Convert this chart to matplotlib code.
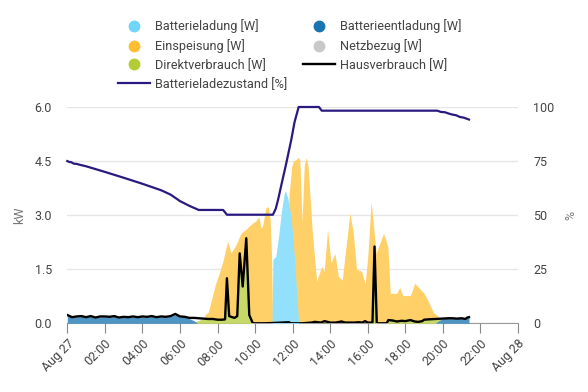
import numpy as np
import matplotlib
matplotlib.use('Agg')
import matplotlib.pyplot as plt
from matplotlib.lines import Line2D

plt.rcParams['font.family'] = ['Roboto', 'DejaVu Sans']

# ---- data (hours since Aug 27 00:00, kW / %) ----
x_ticks = list(range(0, 25, 2))
x_labels = ['Aug 27', '02:00', '04:00', '06:00', '08:00', '10:00', '12:00',
            '14:00', '16:00', '18:00', '20:00', '22:00', 'Aug 28']

# Hausverbrauch [kW]
house_t = [0, 0.25, 0.5, 0.75, 1.0, 1.25, 1.5, 1.75, 2.0, 2.25, 2.5, 2.75, 3.0, 3.25,
           3.5, 3.75, 4.0, 4.25, 4.5, 4.75, 5.0, 5.25, 5.5, 5.75, 6.0, 6.25, 6.5, 6.75,
           7.0, 7.25, 7.5, 7.75, 8.0, 8.25, 8.4, 8.5, 8.62, 8.72, 8.9, 9.05, 9.18, 9.34,
           9.53, 9.69, 9.88, 10.5, 11.0, 11.8, 11.9, 12.5, 13.0, 13.18, 13.5, 13.7, 14.0,
           14.3, 14.6, 14.8, 15.3, 15.5, 15.7, 15.86, 16.0, 16.25, 16.36, 16.48, 17.0,
           17.1, 17.3, 17.55, 17.8, 18.0, 18.27, 18.5, 18.7, 18.9, 19.0, 19.25, 19.6,
           19.96, 20.3, 20.5, 20.75, 21.0, 21.2, 21.3, 21.39]
house_v = [0.23, 0.17, 0.19, 0.2, 0.17, 0.2, 0.16, 0.19, 0.19, 0.18, 0.2, 0.16, 0.18, 0.17,
           0.19, 0.17, 0.19, 0.18, 0.2, 0.17, 0.19, 0.18, 0.2, 0.26, 0.19, 0.18, 0.15, 0.15,
           0.14, 0.13, 0.12, 0.12, 0.1, 0.1, 0.11, 1.25, 0.2, 0.18, 0.15, 0.2, 1.94, 1.02,
           2.36, 0.23, 0.0, 0.0, 0.01, 0.03, 0.0, 0.0, 0.02, 0.04, 0.02, 0.06, 0.02,
           0.02, 0.05, 0.02, 0.02, 0.03, 0.02, 0.06, 0.02, 0.02, 2.13, 0.0, 0.0,
           0.09, 0.08, 0.05, 0.07, 0.06, 0.09, 0.05, 0.04, 0.06, 0.1, 0.11, 0.12,
           0.13, 0.14, 0.14, 0.13, 0.14, 0.12, 0.16, 0.17]

# Batterieentladung [kW]
dis_t = [0, 0.25, 0.5, 0.75, 1.0, 1.25, 1.5, 1.75, 2.0, 2.25, 2.5, 2.75, 3.0, 3.25,
         3.5, 3.75, 4.0, 4.25, 4.5, 4.75, 5.0, 5.25, 5.5, 5.75, 6.0, 6.25, 6.5, 6.75, 6.95,
         19.6, 19.8, 20.0, 20.3, 20.5, 20.75, 21.0, 21.2, 21.3, 21.39]
dis_v = [0.21, 0.16, 0.18, 0.19, 0.16, 0.19, 0.15, 0.18, 0.18, 0.17, 0.19, 0.15, 0.17, 0.16,
         0.18, 0.16, 0.18, 0.17, 0.19, 0.16, 0.18, 0.17, 0.19, 0.24, 0.18, 0.17, 0.13, 0.07, 0.0,
         0.0, 0.08, 0.13, 0.14, 0.14, 0.13, 0.14, 0.12, 0.16, 0.17]

# Direktverbrauch [kW]
direct_t = [6.6, 6.9, 7.2, 7.5, 7.75, 8.0, 8.25, 8.4, 8.5, 8.62, 8.72, 8.9, 9.05, 9.18,
            9.34, 9.53, 9.69, 9.88, 16.2, 16.25, 16.36, 16.48, 17.0, 17.1, 17.3, 17.55,
            17.8, 18.0, 18.27, 18.5, 18.7, 18.9, 19.0, 19.25, 19.6, 19.8, 20.0]
direct_v = [0.0, 0.06, 0.12, 0.12, 0.12, 0.1, 0.1, 0.11, 1.25, 0.2, 0.18, 0.15, 0.2, 1.94,
            1.02, 2.36, 0.23, 0.0, 0.0, 0.02, 2.13, 0.0, 0.0, 0.09, 0.08, 0.05,
            0.07, 0.06, 0.09, 0.05, 0.04, 0.06, 0.1, 0.11, 0.12, 0.1, 0.0]

# Batterieladung [kW]
charge_t = [10.9, 10.95, 11.1, 11.25, 11.4, 11.55, 11.62, 11.75, 11.93, 12.1, 12.32]
charge_v = [0.0, 1.78, 1.85, 2.4, 3.1, 3.6, 3.68, 3.45, 2.9, 1.8, 0.0]

# Einspeisung [kW]
feed_t = [7.2, 7.35, 7.5, 7.7, 7.9, 8.1, 8.3, 8.45, 8.54, 8.72, 8.9, 9.0, 9.25, 9.5, 9.8,
          10.05, 10.2, 10.32, 10.4, 10.57, 10.7, 10.8, 10.88, 10.93,
          11.7, 11.8, 11.95, 12.05, 12.2, 12.3, 12.38, 12.5, 12.62, 12.73, 12.82, 13.05,
          13.28, 13.55, 13.68, 13.86, 14.04, 14.25, 14.43, 14.64, 15.05, 15.23, 15.4,
          15.67, 15.86, 16.0, 16.18, 16.45, 16.84, 17.07, 17.2, 17.55, 17.7, 17.86,
          18.27, 18.5, 18.7, 19.0, 19.14, 19.5, 19.8, 19.95]
feed_v = [0.0, 0.25, 0.3, 0.7, 1.1, 1.4, 1.75, 2.1, 2.27, 1.95, 2.1, 2.2, 2.5, 2.6, 2.75,
          2.85, 2.95, 2.64, 2.7, 3.2, 3.24, 2.9, 1.8, 0.0,
          0.0, 3.5, 4.35, 4.5, 4.55, 4.6, 4.54, 2.82, 4.4, 4.6, 4.36, 2.5,
          1.17, 1.58, 1.44, 2.6, 1.67, 1.94, 1.3, 1.2, 3.06, 2.5, 1.5,
          1.44, 1.1, 1.85, 3.37, 1.94, 2.5, 2.13, 0.83, 0.83, 1.0, 0.77,
          0.77, 1.11, 1.0, 0.83, 0.7, 0.3, 0.17, 0.0]

# Netzbezug [kW]
grid_t = [0, 21.39]
grid_v = [0.0, 0.0]

# Batterieladezustand [%]
soc_t = [0, 0.1, 0.2, 0.35, 0.5, 0.7, 1.0, 2.0, 3.0, 4.0, 5.0, 5.5, 6.0, 6.5, 7.0, 8.3,
         8.5, 10.95, 11.1, 11.22, 11.4, 11.66, 11.93, 12.1, 12.32, 13.4, 13.55, 19.7,
         19.9, 20.1, 20.3, 20.5, 20.7, 20.9, 21.1, 21.39]
soc_v = [75, 74.6, 74.5, 73.8, 73.7, 73.2, 72.6, 70.0, 67.3, 64.5, 61.5, 59.5, 56.5, 54.3,
         52.4, 52.4, 50.2, 50.2, 53, 57, 64, 74, 85, 93, 100, 100, 98.3, 98.3,
         97.7, 97.6, 97.0, 96.5, 96.2, 95.4, 95.1, 94.2]

# ---- colours ----
c_charge = '#6fd5fb'
c_dis = '#1a74b0'
c_feed = '#ffbf30'
c_grid = '#c8c8c8'
c_direct = '#b3cc35'
f_charge = '#93e0fc'
f_dis = '#4f95c4'
f_feed = '#ffd067'
f_direct = '#c6d968'
c_soc = '#2a1a80'
txt = '#444444'

fig = plt.figure(figsize=(5.88, 3.92), dpi=100)
ax = fig.add_axes([67.3/588, 68.7/392, 450.7/588, 216.3/392])

ax.fill_between(feed_t, 0, feed_v, color=f_feed, lw=0, zorder=2)
ax.fill_between(charge_t, 0, charge_v, color=f_charge, lw=0, zorder=3)
ax.fill_between(direct_t, 0, direct_v, color=f_direct, lw=0, zorder=4)
ax.fill_between(dis_t, 0, dis_v, color=f_dis, lw=0, zorder=5)
ax.fill_between(grid_t, 0, grid_v, color=c_grid, lw=0, zorder=5)
ax.plot(house_t, house_v, color='black', lw=1.7, zorder=6)

ax.set_xlim(0, 24)
ax.set_ylim(0, 6)
ax.set_yticks([0, 1.5, 3.0, 4.5, 6.0])
ax.set_yticklabels(['0.0', '1.5', '3.0', '4.5', '6.0'])
ax.set_xticks(x_ticks)
ax.set_xticklabels(x_labels, rotation=45, ha='right', rotation_mode='anchor')
ax.grid(axis='y', color='#e6e6e6', lw=1)
ax.set_axisbelow(True)
for s in ['top', 'left', 'right']:
    ax.spines[s].set_visible(False)
ax.spines['bottom'].set_color('#999999')
ax.tick_params(axis='y', length=0, pad=11, labelsize=9, labelcolor=txt)
ax.tick_params(axis='x', length=7, color='#888888', labelsize=9, labelcolor=txt, pad=3)
ax.set_ylabel('kW', color='#777777', fontsize=9, labelpad=6)

ax2 = ax.twinx()
ax2.plot(soc_t, soc_v, color=c_soc, lw=1.6, clip_on=False, zorder=7)
ax2.set_ylim(0, 100)
ax2.set_yticks([0, 25, 50, 75, 100])
for s in ['top', 'left', 'right', 'bottom']:
    ax2.spines[s].set_visible(False)
ax2.tick_params(axis='y', length=0, pad=11, labelsize=9, labelcolor=txt)
ax2.set_ylabel('%', color='#777777', fontsize=9, labelpad=7)

handles = [
    Line2D([], [], marker='o', ls='none', color=c_charge, markersize=7.5),
    Line2D([], [], marker='o', ls='none', color=c_feed, markersize=7.5),
    Line2D([], [], marker='o', ls='none', color=c_direct, markersize=7.5),
    Line2D([], [], color=c_soc, lw=1.6),
    Line2D([], [], marker='o', ls='none', color=c_dis, markersize=7.5),
    Line2D([], [], marker='o', ls='none', color=c_grid, markersize=7.5),
    Line2D([], [], color='black', lw=1.7),
]
labels = ['Batterieladung [W]', 'Einspeisung [W]', 'Direktverbrauch [W]',
          'Batterieladezustand [%]', 'Batterieentladung [W]', 'Netzbezug [W]',
          'Hausverbrauch [W]']
leg = fig.legend(handles, labels, ncol=2, loc='upper center',
                 bbox_to_anchor=(290/588, 1 - 8/392), frameon=False, fontsize=9.2,
                 handlelength=2.5, handletextpad=0.4, columnspacing=1.25,
                 labelspacing=0.45)
for t in leg.get_texts():
    t.set_color(txt)

fig.savefig('out.png', dpi=100)
